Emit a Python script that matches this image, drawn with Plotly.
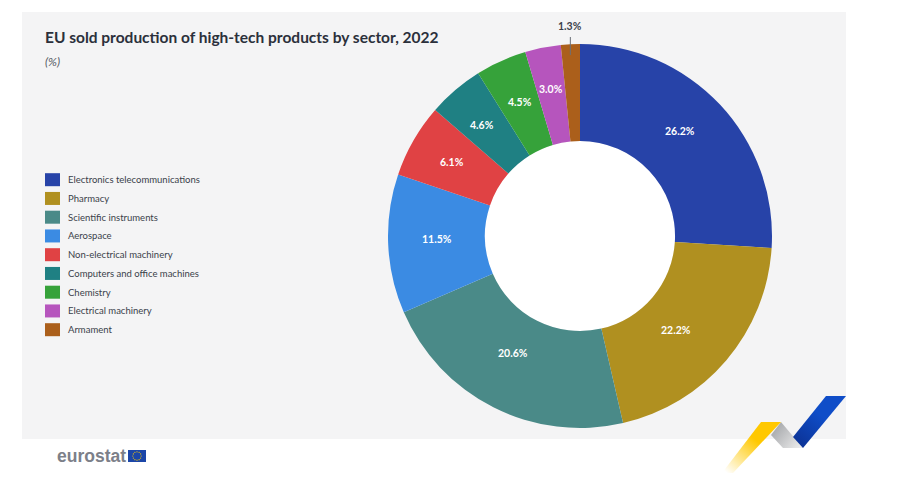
import math
import base64
import plotly.graph_objects as go

W, H = 921, 477
sectors = ["Electronics telecommunications", "Pharmacy", "Scientific instruments", "Aerospace",
           "Non-electrical machinery", "Computers and office machines", "Chemistry",
           "Electrical machinery", "Armament"]
# The percentages the reference prints on its slices.
printed_shares = [26.2, 22.2, 20.6, 11.5, 6.1, 4.6, 4.5, 3.0, 1.3]
# The sizes its arcs measure on the picture. They do not follow the printed numbers:
# Pharmacy's arc is smaller than Scientific instruments', though its label is larger.
# Both are kept, to reproduce the picture as it is.
arc_shares = [26.0, 20.4, 22.1, 11.7, 6.2, 4.7, 4.3, 3.0, 1.6]
colors = ["#2743A8", "#B09020", "#4A8A88", "#3B8BE3", "#E04244", "#1F8083", "#36A23A", "#B655BD", "#AB5F1B"]

FONT = "Lato, Open Sans, sans-serif"
INK = "#3a3f4a"
cx, cy, R, HOLE = 580, 236, 192, 0.495
label_radius = [145, 134, 135, 143, 148, 148, 147, 150]
label_nudge_deg = [-3, 4, 3, 1, 0, -1, 0, 0]


def px(x):
    return x / W


def py(y):
    return 1 - y / H


fig = go.Figure(go.Pie(
    labels=sectors, values=arc_shares, sort=False, direction="clockwise", rotation=0, hole=HOLE,
    marker=dict(colors=colors, line=dict(width=0)),
    text=[f"{v:.1f}%" for v in printed_shares], textinfo="none", hoverinfo="label+text", showlegend=False,
    domain=dict(x=[px(cx - R), px(cx + R)], y=[py(cy + R), py(cy - R)]),
))

fig.add_shape(type="rect", xref="paper", yref="paper", x0=px(22), x1=px(846), y0=py(439), y1=py(12),
              fillcolor="#f4f4f5", line=dict(width=0), layer="below")
r = R * HOLE
fig.add_shape(type="circle", xref="paper", yref="paper", x0=px(cx - r), x1=px(cx + r), y0=py(cy + r), y1=py(cy - r),
              fillcolor="white", line=dict(width=0), layer="below")


def note(x, y, text, size, color, anchor="center", family=FONT):
    fig.add_annotation(x=px(x), y=py(y), xref="paper", yref="paper", xanchor=anchor, yanchor="middle",
                       showarrow=False, text=text, font=dict(size=size, color=color, family=family))


# value labels placed from the slice arcs
total = sum(arc_shares)
running = 0.0
for i, (arc, printed) in enumerate(zip(arc_shares, printed_shares)):
    angle = (running + arc / 2) / total * 2 * math.pi
    running += arc
    label = f"<b>{printed:.1f}%</b>"
    if i == len(arc_shares) - 1:
        lx = cx + R * math.sin(angle)
        note(lx, 26, label, 10.5, INK)
        fig.add_shape(type="line", xref="paper", yref="paper", x0=px(lx), x1=px(lx), y0=py(37), y1=py(55),
                      line=dict(color="#6b6f78", width=1), layer="above")
    else:
        a = angle + math.radians(label_nudge_deg[i])
        note(cx + label_radius[i] * math.sin(a), cy - label_radius[i] * math.cos(a), label, 10.5, "white")

# legend
legend_top, legend_step = 179.7, 18.75
for i, (name, colour) in enumerate(zip(sectors, colors)):
    y = legend_top + i * legend_step
    fig.add_shape(type="rect", xref="paper", yref="paper", x0=px(45), x1=px(60), y0=py(y + 6.5), y1=py(y - 6.5),
                  fillcolor=colour, line=dict(width=0), layer="above")
    note(66, y, name, 9.5, INK, "left")

note(43, 37, "<b>EU sold production of high-tech products by sector, 2022</b>", 15.5, "#2b303b", "left")
note(43, 61, "<i>(%)</i>", 12, "#555a64", "left")
note(55, 456, "<b>eurostat</b>", 17.5, "#7c8089", "left", "Liberation Sans, sans-serif")

stars = "".join(
    f'<circle cx="{137 + 4.2 * math.cos(i * math.pi / 6):.2f}" cy="{456 + 4.2 * math.sin(i * math.pi / 6):.2f}" r="0.6" fill="#ffcc00"/>'
    for i in range(12))
svg = f'''<svg xmlns="http://www.w3.org/2000/svg" width="{W}" height="{H}" viewBox="0 0 {W} {H}">
<defs>
<linearGradient id="y" x1="771" y1="422" x2="727" y2="473" gradientUnits="userSpaceOnUse"><stop offset="0.35" stop-color="#ffc800"/><stop offset="1" stop-color="#ffc800" stop-opacity="0"/></linearGradient>
<linearGradient id="g" x1="775" y1="428" x2="800" y2="448" gradientUnits="userSpaceOnUse"><stop offset="0" stop-color="#a9abae"/><stop offset="1" stop-color="#ececec"/></linearGradient>
<linearGradient id="b" x1="836" y1="396" x2="798" y2="443" gradientUnits="userSpaceOnUse"><stop offset="0.4" stop-color="#0f4dc8"/><stop offset="1" stop-color="#0c3498"/></linearGradient>
</defs>
<polygon points="781,422 803,448 783,448 771,435" fill="url(#g)"/>
<polygon points="761,422 781,422 733,473 722,473" fill="url(#y)"/>
<polygon points="826,396 846,396 803,448 793,437" fill="url(#b)"/>
<rect x="128" y="450" width="18" height="12" fill="#1b46a8"/>{stars}
</svg>'''
fig.add_layout_image(source="data:image/svg+xml;base64," + base64.b64encode(svg.encode()).decode(),
                     xref="paper", yref="paper", x=0, y=1, sizex=1, sizey=1, sizing="stretch",
                     xanchor="left", yanchor="top", layer="above")

fig.update_layout(
    width=W, height=H, margin=dict(l=0, r=0, t=0, b=0), paper_bgcolor="white",
    font=dict(family=FONT, color=INK),
)
fig.write_html("out.html", config=dict(displayModeBar=False), post_script="document.body.style.margin='0';")
